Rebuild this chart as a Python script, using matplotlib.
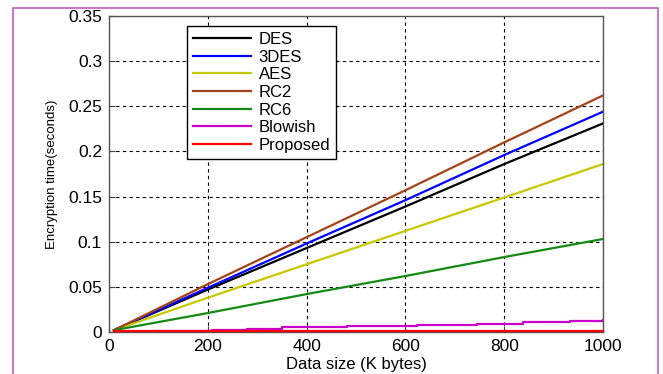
import matplotlib
matplotlib.use('Agg')
import matplotlib.pyplot as plt
from matplotlib.patches import Rectangle

# data
x = [10, 200, 400, 600, 800, 1000]
des = [0.002, 0.047, 0.093, 0.139, 0.186, 0.231]
des3 = [0.002, 0.049, 0.098, 0.146, 0.196, 0.244]
aes = [0.002, 0.038, 0.075, 0.112, 0.149, 0.186]
rc2 = [0.002, 0.053, 0.105, 0.157, 0.210, 0.262]
rc6 = [0.002, 0.021, 0.042, 0.062, 0.083, 0.103]
bf_x = [93, 208, 279, 350, 481, 623, 745, 838, 933, 1000]
bf_y = [0.001, 0.002, 0.0035, 0.005, 0.0065, 0.008, 0.0093, 0.0107, 0.0125, 0.0133]
prop = [0.001, 0.001, 0.001, 0.001, 0.001, 0.001]

xticks = [0, 200, 400, 600, 800, 1000]
yticks = [0, 0.05, 0.1, 0.15, 0.2, 0.25, 0.3, 0.35]
ytick_labels = ['0', '0.05', '0.1', '0.15', '0.2', '0.25', '0.3', '0.35']

plt.rcParams['font.family'] = ['Liberation Sans', 'DejaVu Sans']

fig = plt.figure(figsize=(6.63, 3.74), dpi=100)
ax = fig.add_axes([109/663, 1 - 332/374, 494/663, 316/374])

lw = 1.6
ax.plot(x, des, color='black', lw=lw, label='DES')
ax.plot(x, des3, color='#0000ff', lw=lw, label='3DES')
ax.plot(x, aes, color='#c8c800', lw=lw, label='AES')
ax.plot(x, rc2, color='#a4421a', lw=lw, label='RC2')
ax.plot(x, rc6, color='#148a14', lw=lw, label='RC6')
ax.plot(bf_x, bf_y, color='#cc00cc', lw=lw, drawstyle='steps-post', label='Blowish')
ax.plot(x, prop, color='#ff0000', lw=lw, label='Proposed', zorder=5, clip_on=False)

ax.set_xlim(0, 1000)
ax.set_ylim(0, 0.35)
ax.set_xticks(xticks)
ax.set_yticks(yticks)
ax.set_yticklabels(ytick_labels)
ax.tick_params(direction='in', labelsize=12.5, length=4, color='#444444', pad=5)
ax.grid(True, color='black', linestyle=(0, (3, 3)), linewidth=0.8)
for s in ax.spines.values():
    s.set_color('#555555')
    s.set_linewidth(1)

ax.set_xlabel('Data size (K bytes)', fontsize=12, labelpad=2)
ax.set_ylabel('Encryption time(seconds)', fontsize=9.5, labelpad=7,
              family=['Liberation Sans Narrow', 'Liberation Sans', 'DejaVu Sans'])

leg = ax.legend(loc='upper left', bbox_to_anchor=(0.158, 0.968), fontsize=12,
                fancybox=False, edgecolor='black', framealpha=1,
                handlelength=3.5, labelspacing=0.16, borderpad=0.35,
                handletextpad=0.45, borderaxespad=0)
leg.get_frame().set_linewidth(1)

# thin border around the figure
fig.patches.append(Rectangle((13/663, -0.05), 645/663, 1.05 - 8/374,
                             transform=fig.transFigure, fill=False,
                             edgecolor='#c060c0', linewidth=1.2))

fig.savefig('out.png', dpi=100)
